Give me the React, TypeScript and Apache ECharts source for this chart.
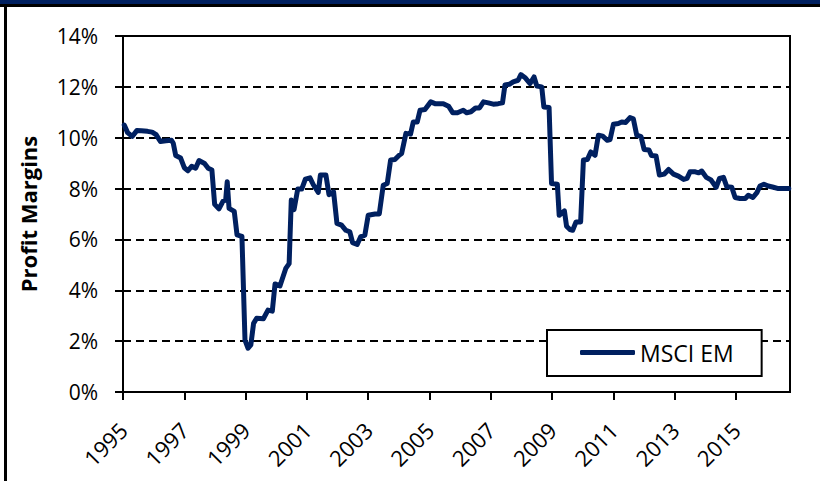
import React, { useEffect, useRef } from "react";
import * as echarts from "echarts";

const seriesName = "MSCI EM";
const yAxisTitle = "Profit Margins";
const tickYears = [1995, 1997, 1999, 2001, 2003, 2005, 2007, 2009, 2011, 2013, 2015];

const years = [
  1995.04, 1995.15, 1995.3, 1995.45, 1995.6, 1995.8, 1995.95, 1996.08, 1996.22, 1996.4,
  1996.58, 1996.64, 1996.72, 1996.88, 1997.0, 1997.12, 1997.24, 1997.37, 1997.48, 1997.66,
  1997.78, 1997.9, 1997.99, 1998.13, 1998.26, 1998.35, 1998.4, 1998.46, 1998.63, 1998.72,
  1998.88, 1998.98, 1999.08, 1999.17, 1999.26, 1999.36, 1999.58, 1999.73, 1999.87, 1999.96,
  2000.12, 2000.31, 2000.42, 2000.49, 2000.58, 2000.7, 2000.83, 2000.95, 2001.1, 2001.21,
  2001.37, 2001.44, 2001.62, 2001.72, 2001.87, 2001.98, 2002.13, 2002.27, 2002.4, 2002.49,
  2002.64, 2002.75, 2002.89, 2003.0, 2003.22, 2003.36, 2003.49, 2003.62, 2003.73, 2003.87,
  2004.01, 2004.09, 2004.23, 2004.38, 2004.47, 2004.6, 2004.69, 2004.85, 2005.04, 2005.18,
  2005.32, 2005.45, 2005.62, 2005.76, 2005.91, 2006.1, 2006.21, 2006.35, 2006.5, 2006.63,
  2006.76, 2006.92, 2007.08, 2007.24, 2007.38, 2007.46, 2007.6, 2007.73, 2007.89, 2007.98,
  2008.11, 2008.28, 2008.41, 2008.5, 2008.66, 2008.73, 2008.9, 2008.98, 2009.17, 2009.23,
  2009.4, 2009.47, 2009.58, 2009.67, 2009.78, 2009.93, 2010.02, 2010.15, 2010.26, 2010.4,
  2010.51, 2010.65, 2010.8, 2010.89, 2011.0, 2011.16, 2011.27, 2011.4, 2011.54, 2011.65,
  2011.76, 2011.9, 2012.0, 2012.16, 2012.24, 2012.39, 2012.5, 2012.66, 2012.8, 2012.96,
  2013.12, 2013.29, 2013.4, 2013.5, 2013.67, 2013.78, 2013.88, 2014.03, 2014.18, 2014.35,
  2014.46, 2014.59, 2014.7, 2014.86, 2014.97, 2015.13, 2015.3, 2015.4, 2015.55, 2015.68,
  2015.78, 2015.91, 2016.05, 2016.22, 2016.38, 2016.55, 2016.72,
];

const margins = [
  10.5, 10.2, 10.05, 10.28, 10.27, 10.25, 10.22, 10.12, 9.85, 9.88,
  9.9, 9.78, 9.3, 9.2, 8.82, 8.7, 8.88, 8.8, 9.1, 8.99,
  8.8, 8.73, 7.38, 7.2, 7.5, 7.55, 8.27, 7.22, 7.1, 6.18,
  6.12, 2.04, 1.72, 1.85, 2.7, 2.9, 2.88, 3.22, 3.18, 4.25,
  4.17, 4.86, 5.05, 7.55, 7.17, 7.98, 7.98, 8.37, 8.42, 8.15,
  7.85, 8.53, 8.53, 7.76, 7.87, 6.63, 6.56, 6.36, 6.3, 5.87,
  5.8, 6.1, 6.17, 6.95, 7.0, 7.0, 8.13, 8.2, 9.12, 9.14,
  9.31, 9.38, 10.17, 10.14, 10.62, 10.62, 11.08, 11.11, 11.41, 11.34,
  11.34, 11.34, 11.24, 10.98, 10.98, 11.08, 10.98, 11.02, 11.17, 11.17,
  11.41, 11.37, 11.32, 11.34, 11.37, 12.07, 12.1, 12.2, 12.26, 12.48,
  12.37, 12.13, 12.39, 12.03, 12.0, 11.21, 11.19, 8.2, 8.17, 6.95,
  7.12, 6.52, 6.39, 6.36, 6.69, 6.69, 9.12, 9.14, 9.44, 9.31,
  10.1, 10.06, 9.9, 9.93, 10.53, 10.56, 10.62, 10.6, 10.79, 10.74,
  10.1, 10.04, 9.54, 9.52, 9.3, 9.28, 8.53, 8.57, 8.75, 8.57,
  8.49, 8.36, 8.4, 8.66, 8.66, 8.62, 8.69, 8.44, 8.34, 8.05,
  8.4, 8.44, 8.07, 8.05, 7.65, 7.61, 7.61, 7.74, 7.65, 7.84,
  8.1, 8.17, 8.1, 8.05, 8.0, 8.0, 8.0,
];

const NAVY = "#002060";
const FONT = "'Open Sans', 'Liberation Sans', sans-serif";

export default function App() {
  const ref = useRef<HTMLDivElement>(null);

  useEffect(() => {
    if (!ref.current) return;
    const chart = echarts.init(ref.current, undefined, { renderer: "svg" });
    const data = years.map((y, i) => [y, margins[i]]);
    chart.setOption({
      animation: false,
      backgroundColor: "#ffffff",
      textStyle: { fontFamily: FONT },
      graphic: [
        { type: "rect", left: 0, top: 0, shape: { width: 820, height: 4 }, style: { fill: NAVY } },
        { type: "rect", left: 0, top: 4, shape: { width: 820, height: 3 }, style: { fill: "#000" } },
        { type: "rect", left: 4, top: 4, shape: { width: 3, height: 477 }, style: { fill: "#000" } },
      ],
      grid: {
        left: 123,
        right: 30,
        top: 36,
        bottom: 89,
        show: true,
        borderColor: "#000",
        borderWidth: 2,
        backgroundColor: "transparent",
      },
      legend: {
        left: 547,
        top: 330,
        orient: "horizontal",
        data: [{ name: seriesName, icon: "roundRect" }],
        itemWidth: 55,
        itemHeight: 5,
        backgroundColor: "#fff",
        borderColor: "#000",
        borderWidth: 2,
        borderRadius: 0,
        padding: [11, 28, 12, 33],
        textStyle: { fontFamily: FONT, fontSize: 23, color: "#000" },
      },
      xAxis: {
        type: "value",
        min: 1995,
        max: 2016.76,
        interval: 2,
        splitLine: { show: false },
        axisLine: { show: true, onZero: false, lineStyle: { color: "#000", width: 2 } },
        axisTick: {
          show: true,
          length: 8,
          inside: false,
          customValues: tickYears,
          lineStyle: { color: "#000", width: 2 },
        },
        axisLabel: {
          customValues: tickYears,
          rotate: 45,
          margin: 34,
          fontSize: 22,
          color: "#000",
          fontFamily: FONT,
          formatter: (v: number) => String(Math.round(v)),
        },
      },
      yAxis: {
        type: "value",
        min: 0,
        max: 14,
        interval: 2,
        name: yAxisTitle,
        nameLocation: "middle",
        nameGap: 84,
        nameTextStyle: { fontFamily: FONT, fontSize: 22, fontWeight: "bold", color: "#000" },
        axisLine: { show: true, lineStyle: { color: "#000", width: 2 } },
        axisTick: { show: true, length: 8, inside: false, lineStyle: { color: "#000", width: 2 } },
        axisLabel: {
          margin: 25,
          fontSize: 21,
          color: "#000",
          fontFamily: FONT,
          formatter: (v: number) => `${v}%`,
        },
        splitLine: {
          show: true,
          lineStyle: { color: "#000", width: 2, type: [8, 5] },
        },
      },
      series: [
        {
          name: seriesName,
          type: "line",
          data,
          symbol: "none",
          showSymbol: false,
          lineStyle: { color: NAVY, width: 5, cap: "round", join: "round" },
          itemStyle: { color: NAVY },
          z: 5,
        },
      ],
    });
    return () => chart.dispose();
  }, []);

  return (
    <div
      ref={ref}
      style={{ position: "absolute", left: 0, top: 0, width: 820, height: 481 }}
    />
  );
}
